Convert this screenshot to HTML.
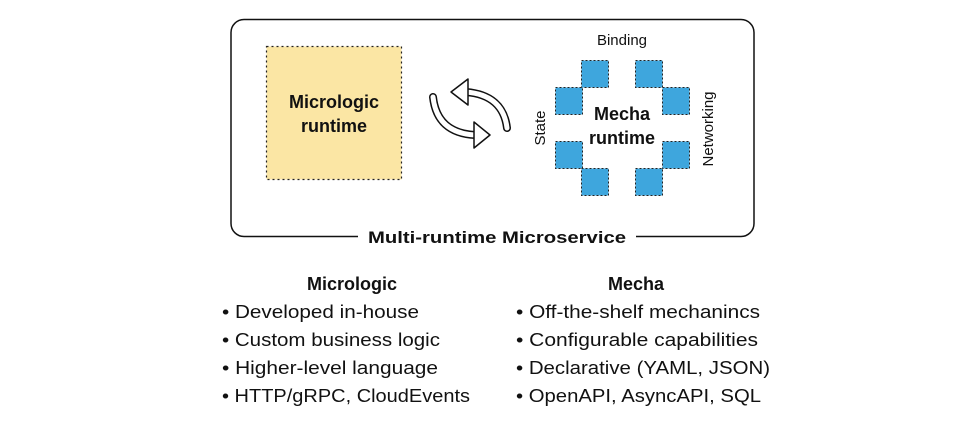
<!DOCTYPE html>
<html><head><meta charset="utf-8"><style>
html,body{margin:0;padding:0;background:#fff;}
svg{display:block;}
text{font-family:"Liberation Sans",sans-serif;fill:#111;}
</style></head><body>
<svg width="975" height="421" viewBox="0 0 975 421" xmlns="http://www.w3.org/2000/svg">
<rect x="231" y="19.5" width="523" height="217" rx="13" fill="none" stroke="#111" stroke-width="1.5"/>
<rect x="358" y="226" width="278" height="22" fill="#fff"/>
<text x="497" y="243" font-size="17" font-weight="bold" text-anchor="middle" textLength="258" lengthAdjust="spacingAndGlyphs">Multi-runtime Microservice</text>

<rect x="266.5" y="46.5" width="135" height="133" fill="#fbe6a4" stroke="#222" stroke-width="1.2" stroke-dasharray="2,3"/>
<text x="334" y="108" font-size="18" font-weight="bold" text-anchor="middle">Micrologic</text>
<text x="334" y="132" font-size="18" font-weight="bold" text-anchor="middle">runtime</text>

<g fill="none" stroke-linecap="round">
<path d="M507,128 Q503,95 466,92" stroke="#111" stroke-width="8"/>
<path d="M507,128 Q503,95 466,92" stroke="#fff" stroke-width="5"/>
<path d="M433,97 Q437,133 475,135" stroke="#111" stroke-width="8"/>
<path d="M433,97 Q437,133 475,135" stroke="#fff" stroke-width="5"/>
</g>
<polygon points="451,92 468,79 468,105" fill="#fff" stroke="#111" stroke-width="1.5" stroke-linejoin="round"/>
<polygon points="490,135 474,122 474,148" fill="#fff" stroke="#111" stroke-width="1.5" stroke-linejoin="round"/>

<g fill="#3ea6dd" stroke="#222" stroke-width="1" stroke-dasharray="2,2">
<rect x="581.5" y="60.5" width="27" height="27"/>
<rect x="635.5" y="60.5" width="27" height="27"/>
<rect x="555.5" y="87.5" width="27" height="27"/>
<rect x="662.5" y="87.5" width="27" height="27"/>
<rect x="555.5" y="141.5" width="27" height="27"/>
<rect x="662.5" y="141.5" width="27" height="27"/>
<rect x="581.5" y="168.5" width="27" height="27"/>
<rect x="635.5" y="168.5" width="27" height="27"/>
</g>
<text x="622" y="120" font-size="18" font-weight="bold" text-anchor="middle">Mecha</text>
<text x="622" y="144" font-size="18" font-weight="bold" text-anchor="middle">runtime</text>
<text x="622" y="45" font-size="15" text-anchor="middle">Binding</text>
<text transform="translate(545,128) rotate(-90)" font-size="15" text-anchor="middle">State</text>
<text transform="translate(713,129) rotate(-90)" font-size="15" text-anchor="middle">Networking</text>

<g font-size="18">
<text x="352" y="290" font-weight="bold" text-anchor="middle">Micrologic</text>
<text x="222" y="318" textLength="197" lengthAdjust="spacingAndGlyphs">• Developed in-house</text>
<text x="222" y="346" textLength="218" lengthAdjust="spacingAndGlyphs">• Custom business logic</text>
<text x="222" y="374" textLength="216" lengthAdjust="spacingAndGlyphs">• Higher-level language</text>
<text x="222" y="402" textLength="248" lengthAdjust="spacingAndGlyphs">• HTTP/gRPC, CloudEvents</text>
<text x="636" y="290" font-weight="bold" text-anchor="middle">Mecha</text>
<text x="516" y="318" textLength="244" lengthAdjust="spacingAndGlyphs">• Off-the-shelf mechanincs</text>
<text x="516" y="346" textLength="242" lengthAdjust="spacingAndGlyphs">• Configurable capabilities</text>
<text x="516" y="374" textLength="254" lengthAdjust="spacingAndGlyphs">• Declarative (YAML, JSON)</text>
<text x="516" y="402" textLength="245" lengthAdjust="spacingAndGlyphs">• OpenAPI, AsyncAPI, SQL</text>
</g>
</svg>
</body></html>
